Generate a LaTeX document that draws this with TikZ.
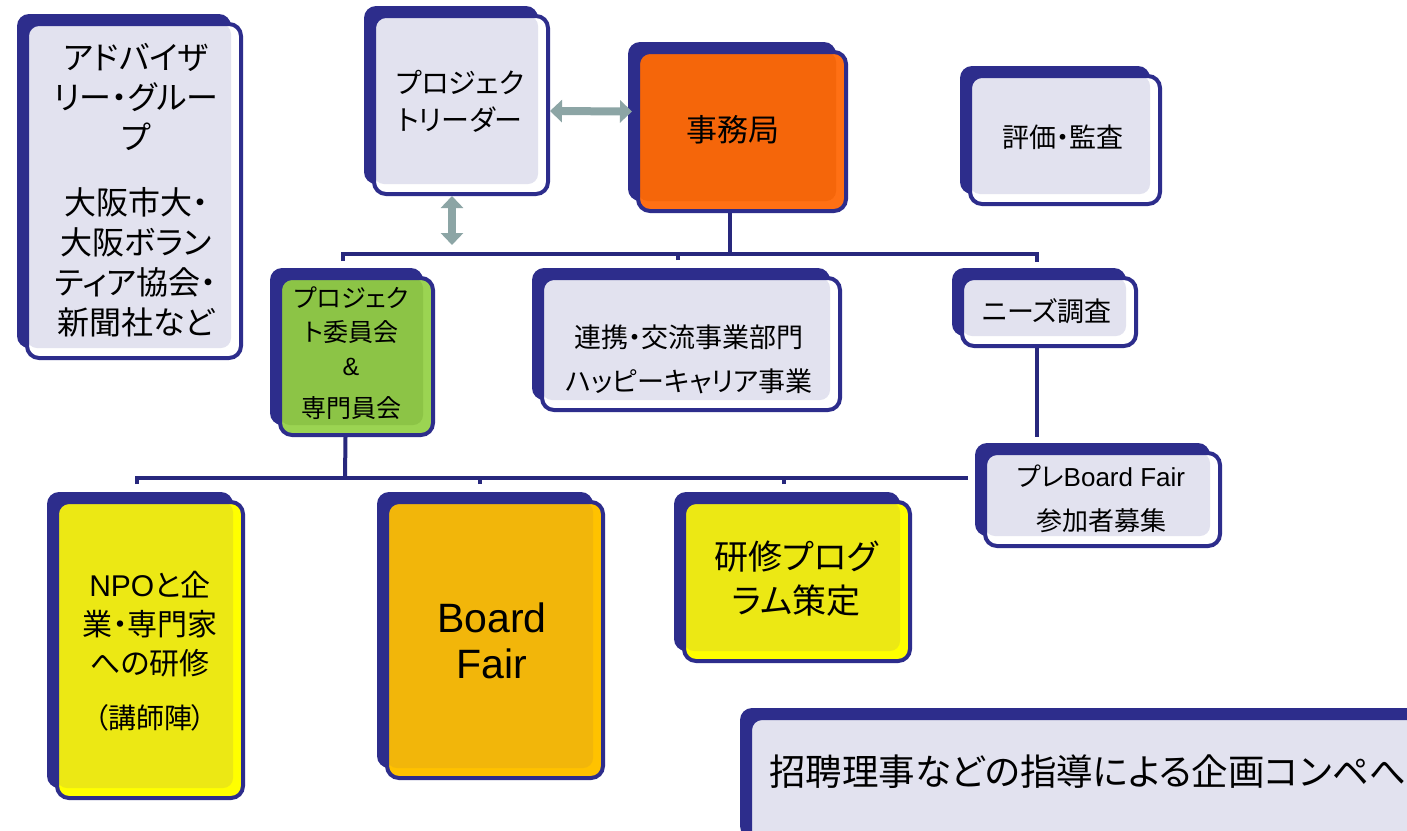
\documentclass[tikz,border=0pt]{standalone}
\usepackage{fontspec}
\setmainfont{Noto Sans CJK JP}[RawFeature=+palt]
\newfontfamily\lat{Liberation Sans}
\usetikzlibrary{arrows.meta,shadows}
\definecolor{navy}{RGB}{45,45,140}
\definecolor{lnavy}{RGB}{40,40,125}
\definecolor{lav}{RGB}{226,226,239}
\definecolor{orA}{RGB}{255,112,20}
\definecolor{orB}{RGB}{245,102,10}
\definecolor{grA}{RGB}{155,212,82}
\definecolor{grB}{RGB}{140,196,70}
\definecolor{yeA}{RGB}{255,255,0}
\definecolor{yeB}{RGB}{236,232,20}
\definecolor{goA}{RGB}{255,194,0}
\definecolor{goB}{RGB}{242,182,10}
\definecolor{gteal}{RGB}{140,165,165}
\newcommand\fs[2]{\fontsize{#1pt}{#2pt}\selectfont}
\tikzset{
  obox/.style 2 args={draw=navy, line width=4pt, rounded corners=12pt, inner sep=0pt,
    fill=#1,
    general shadow={fill=navy, shadow xshift=-10pt, shadow yshift=10pt},
    path picture={\fill[#2, rounded corners=10pt] (path picture bounding box.north west)
       rectangle ([xshift=-10pt,yshift=10pt]path picture bounding box.south east);}},
  wbox/.style={obox={white}{lav}},
  obx/.style={obox={orA}{orB}},
  gbx/.style={obox={grA}{grB}},
  ybx/.style={obox={yeA}{yeB}},
  gobx/.style={obox={goA}{goB}},
  conn/.style={draw=lnavy, line width=4pt},
  garrow/.style={draw=gteal, line width=8pt,
    {Triangle[width=22pt,length=12pt]}-{Triangle[width=22pt,length=12pt]}},
  txt/.style={align=center, inner sep=0pt, text=black}
}
\newcommand\mkbox[6]{%
  \node[#6, minimum width={#4-#2-4}, minimum height={#5-#3-4}] (#1) at ({(#2+#4)/2},{(#3+#5)/2}) {};}
\begin{document}
\begin{tikzpicture}[x=1pt,y=-1pt]
\useasboundingbox (0,0) rectangle (1407,830);
\clip (0,0) rectangle (1407,830);
\fill[white] (0,0) rectangle (1407,830);

% boxes
\mkbox{adv}{25}{22}{243}{360}{wbox}
\mkbox{lead}{372}{14}{550}{196}{wbox}
\mkbox{jimu}{636}{50}{848}{213}{obx}
\mkbox{hyoka}{968}{74}{1162}{206}{wbox}
\mkbox{green}{278}{276}{435}{437}{gbx}
\mkbox{renkei}{540}{276}{842}{412}{wbox}
\mkbox{needs}{960}{276}{1138}{348}{wbox}
\mkbox{pre}{983}{451}{1222}{548}{wbox}
\mkbox{npo}{55}{500}{245}{800}{ybx}
\mkbox{bf}{385}{500}{605}{780}{gobx}
\mkbox{kenshu}{682}{500}{912}{663}{ybx}
\mkbox{shohei}{748}{716}{1440}{850}{wbox}

% connector coordinates
\coordinate (jb) at (730,254);
\coordinate (tl) at (343,261);
\coordinate (tlc) at (343,254);
\coordinate (tm) at (678,260);
\coordinate (tmc) at (678,254);
\coordinate (trc) at (1037,254);
\coordinate (tr) at (1037,262);
\coordinate (gb) at (345,478);
\coordinate (bl) at (137,484);
\coordinate (blc) at (137,478);
\coordinate (bre) at (968,478);
\coordinate (b2) at (480,484);
\coordinate (b2c) at (480,478);
\coordinate (b3) at (784,484);
\coordinate (b3c) at (784,478);
\coordinate (nb) at (1037,437);
\coordinate (va) at (452,245);

\draw[conn] ([xshift=-12pt]jimu.south) -- (jb);
\draw[conn] (tl) -- (tlc) -- (trc) -- (tr);
\draw[conn] (tm) -- (tmc);
\draw[conn] ([xshift=-11pt]green.south) -- (gb);
\draw[conn] (bl) -- (blc) -- (bre);
\draw[conn] (b2) -- (b2c);
\draw[conn] (b3) -- (b3c);
\draw[conn] ([xshift=-12pt]needs.south) -- (nb);

\draw[garrow] ([yshift=-6pt]lead.east) -- ([xshift=-4pt,yshift=20pt]jimu.west);
\draw[garrow] ([xshift=-9pt]lead.south) -- (va);

% texts
\node[txt, font=\fs{32}{40}] (tadv) at (136,190) {アドバイザ\\リー・グルー\\プ\\[25pt]大阪市大・\\大阪ボラン\\ティア協会・\\新聞社など};
\node[txt, font=\fs{28}{37}] (tlead) at (460,101) {プロジェク\\トリーダー};
\node[txt, font=\fs{31}{37}] (tjimu) at (733,130) {事務局};
\node[txt, font=\fs{27}{37}] (thyoka) at (1063,137) {評価・監査};
\node[txt, font=\fs{25}{34}] (tgreen) at (351,353) {プロジェク\\ト委員会\\{\lat\&}\\[8pt]専門員会};
\node[txt, font=\fs{27}{44}] (trenkei) at (689,359) {連携・交流事業部門\\ハッピーキャリア事業};
\node[txt, font=\fs{27}{37}] (tneeds) at (1047,311) {ニーズ調査};
\node[txt, font=\fs{26}{44}] (tpre) at (1101,499) {プレ{\lat Board Fair}\\参加者募集};
\node[txt, font=\fs{30}{39}] (tnpo) at (150,651) {{\lat NPO}と企\\業・専門家\\への研修\\[15pt]{\fs{28}{39}（講師陣）}};
\node[txt, font=\lat\fs{41}{46}] (tbf) at (492,641) {Board\\Fair};
\node[txt, font=\fs{34}{44}] (tken) at (796,579) {研修プログ\\ラム策定};
\node[txt, font=\fs{36.5}{44}, anchor=west] (tsho) at (769,772) {招聘理事などの指導による企画コンペへ};
\end{tikzpicture}
\end{document}
